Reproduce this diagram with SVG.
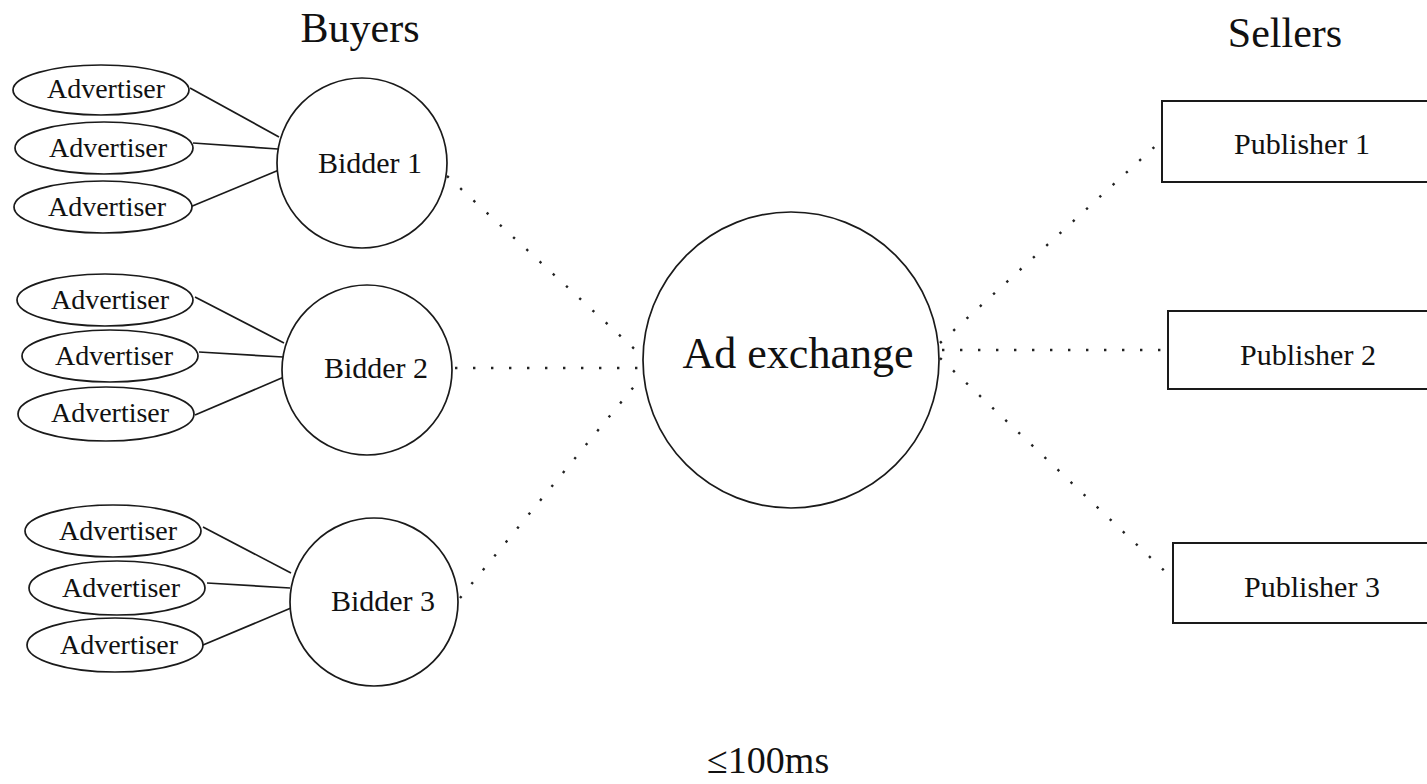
<svg xmlns="http://www.w3.org/2000/svg" width="1427" height="784" viewBox="0 0 1427 784">
<style>
text{font-family:"Liberation Serif","Times New Roman",serif;fill:#111;text-anchor:middle}
.adv{font-size:28px}
.bid{font-size:30px}
.pub{font-size:30px}
.title{font-size:42px}
.shape{fill:#fff;stroke:#1a1a1a;stroke-width:1.7}
.rect{fill:#fff;stroke:#1a1a1a;stroke-width:2}
.solid{stroke:#1a1a1a;stroke-width:1.7;fill:none}
.dot{stroke:#222;stroke-width:2.4;stroke-dasharray:2.4 15.6;fill:none}
</style>
<rect width="1427" height="784" fill="#fff"/>
<text class="title" x="360" y="42">Buyers</text>
<text class="title" x="1285" y="47">Sellers</text>
<g id="connectors">
<line class="solid" x1="190" y1="88" x2="279" y2="137"/>
<line class="solid" x1="193" y1="143" x2="278" y2="149"/>
<line class="solid" x1="190" y1="207" x2="279" y2="170"/>
<line class="solid" x1="195" y1="297" x2="284" y2="343"/>
<line class="solid" x1="199" y1="352" x2="283" y2="357"/>
<line class="solid" x1="195" y1="415" x2="284" y2="377"/>
<line class="solid" x1="203" y1="527" x2="291" y2="573"/>
<line class="solid" x1="207" y1="583" x2="290" y2="588"/>
<line class="solid" x1="203" y1="645" x2="291" y2="608"/>
<line class="dot" x1="447" y1="176" x2="641" y2="355"/>
<line class="dot" x1="455" y1="368" x2="643" y2="368"/>
<line class="dot" x1="460" y1="598" x2="641" y2="378"/>
<line class="dot" x1="940" y1="343" x2="1162" y2="140"/>
<line class="dot" x1="942" y1="350" x2="1168" y2="350"/>
<line class="dot" x1="940" y1="358" x2="1173" y2="579"/>
</g>
<g id="adv1a"><ellipse class="shape" cx="101" cy="90" rx="88" ry="25"/><text class="adv" x="106" y="98">Advertiser</text></g>
<g id="adv1b"><ellipse class="shape" cx="104" cy="148" rx="89" ry="26"/><text class="adv" x="108" y="157">Advertiser</text></g>
<g id="adv1c"><ellipse class="shape" cx="103" cy="207" rx="89" ry="26"/><text class="adv" x="107" y="216">Advertiser</text></g>
<g id="adv2a"><ellipse class="shape" cx="105" cy="300" rx="88" ry="26"/><text class="adv" x="110" y="309">Advertiser</text></g>
<g id="adv2b"><ellipse class="shape" cx="110" cy="356" rx="88" ry="26"/><text class="adv" x="114" y="365">Advertiser</text></g>
<g id="adv2c"><ellipse class="shape" cx="106" cy="414" rx="88" ry="27"/><text class="adv" x="110" y="422">Advertiser</text></g>
<g id="adv3a"><ellipse class="shape" cx="113" cy="531" rx="88" ry="26"/><text class="adv" x="118" y="540">Advertiser</text></g>
<g id="adv3b"><ellipse class="shape" cx="117" cy="588" rx="88" ry="27"/><text class="adv" x="121" y="597">Advertiser</text></g>
<g id="adv3c"><ellipse class="shape" cx="115" cy="645" rx="88" ry="27"/><text class="adv" x="119" y="654">Advertiser</text></g>
<g id="bidder1"><circle class="shape" cx="362" cy="163" r="85"/><text class="bid" x="370" y="173">Bidder 1</text></g>
<g id="bidder2"><circle class="shape" cx="367" cy="370" r="85"/><text class="bid" x="376" y="378">Bidder 2</text></g>
<g id="bidder3"><circle class="shape" cx="374" cy="602" r="84"/><text class="bid" x="383" y="611">Bidder 3</text></g>
<g id="adexchange"><circle class="shape" cx="791" cy="360" r="148"/><text x="798" y="368" style="font-size:44px">Ad exchange</text></g>
<g id="publisher1"><rect class="rect" x="1162" y="101" width="280" height="81"/><text class="pub" x="1302" y="154">Publisher 1</text></g>
<g id="publisher2"><rect class="rect" x="1168" y="311" width="280" height="78"/><text class="pub" x="1308" y="365">Publisher 2</text></g>
<g id="publisher3"><rect class="rect" x="1173" y="543" width="280" height="80"/><text class="pub" x="1312" y="597">Publisher 3</text></g>
<text x="707" y="773" style="font-size:38px;text-anchor:start">≤100ms</text>
</svg>
